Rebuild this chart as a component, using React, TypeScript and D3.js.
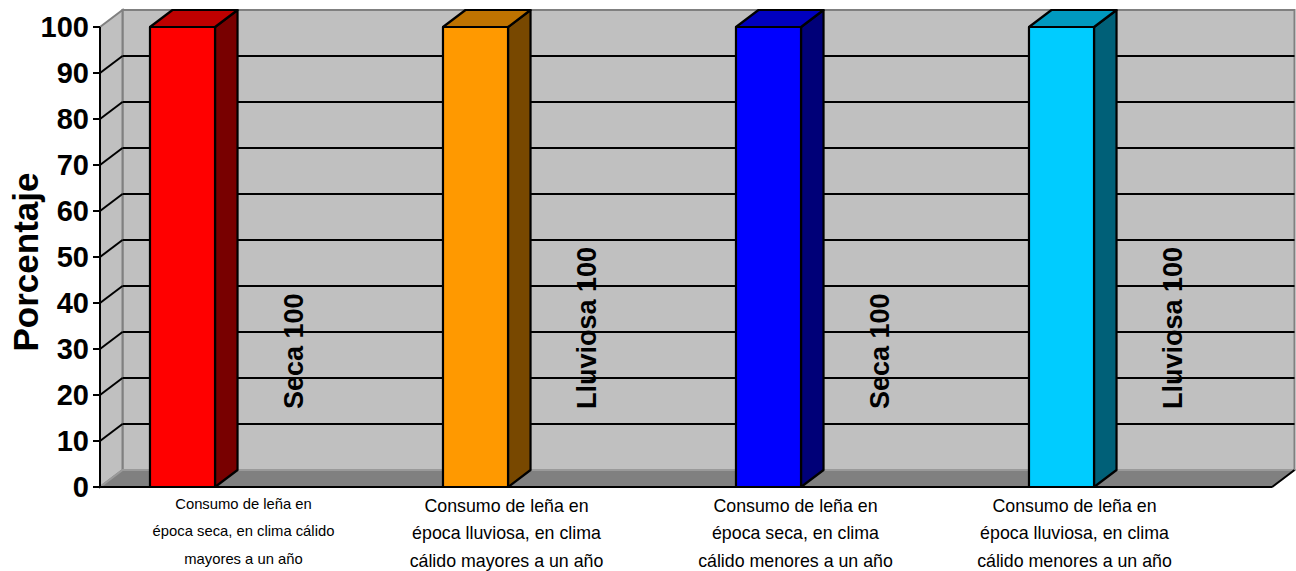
import React from "react";
import * as d3 from "d3";

// Category tick labels, one entry per wrapped line
const categoryLines: string[][] = [
  ["Consumo de leña en", "época seca, en clima cálido", "mayores a un año"],
  ["Consumo de leña en", "época lluviosa, en clima", "cálido mayores a un año"],
  ["Consumo de leña en", "época seca, en clima", "cálido menores a un año"],
  ["Consumo de leña en", "época lluviosa, en clima", "cálido menores a un año"],
];
const categoryKeys = ["mayores-seca", "mayores-lluviosa", "menores-seca", "menores-lluviosa"];
const seasons = ["Seca", "Lluviosa", "Seca", "Lluviosa"];
const values = [100, 100, 100, 100];
const yTicks = [0, 10, 20, 30, 40, 50, 60, 70, 80, 90, 100];

const barColors = ["#ff0000", "#ff9900", "#0000ff", "#00ccff"];

const W = 1296;
const H = 571;
const FONT = "Arial, 'Liberation Sans', sans-serif";

// Plot frame (front plane) and 3D depth offset
const left = 100;
const right = 1272;
const bottom = 487;
const top = 27;
const DX = 22.5;
const DY = 17;

// Category label nudges and font sizes per category
const labelShift = [-3, -33, -37, -51];
const labelFont = [14.8, 17.8, 17.8, 17.8];

function shade(c: string, f: number) {
  const r = d3.rgb(c);
  return d3.rgb(r.r * f, r.g * f, r.b * f).formatHex();
}

export default function App() {
  const x = d3.scaleBand<string>().domain(categoryKeys).range([left, right]).padding(0);
  const y = d3.scaleLinear().domain([0, 100]).range([bottom, top]);
  const bw = x.bandwidth();
  const barW = bw * 0.222;
  const barOff = bw * 0.1706;

  const bx0 = left + DX;
  const bx1 = right + DX;
  const yb = (v: number) => y(v) - DY;

  const pts = (p: [number, number][]) => p.map((q) => q.join(",")).join(" ");

  return (
    <svg
      width={W}
      height={H}
      style={{ position: "absolute", left: 0, top: 0, background: "#fff" }}
      fontFamily={FONT}
    >
      {/* back wall */}
      <rect x={bx0} y={yb(100)} width={bx1 - bx0} height={yb(0) - yb(100)} fill="#c0c0c0" stroke="#808080" strokeWidth={2} />
      {/* side wall */}
      <polygon
        points={pts([[left, y(100)], [bx0, yb(100)], [bx0, yb(0)], [left, y(0)]])}
        fill="#c0c0c0"
        stroke="#808080"
        strokeWidth={2}
      />
      {/* floor */}
      <polygon
        points={pts([[left, y(0)], [bx0, yb(0)], [bx1, yb(0)], [right, y(0)]])}
        fill="#808080"
        stroke="#9a9a9a"
        strokeWidth={2}
      />
      <line x1={left} x2={right} y1={y(0)} y2={y(0)} stroke="#000" strokeWidth={2} />
      <line x1={right} x2={bx1} y1={y(0)} y2={yb(0)} stroke="#000" strokeWidth={2} />

      {/* gridlines */}
      {yTicks.filter((t) => t > 0 && t < 100).map((t) => (
        <g key={`g${t}`}>
          <line x1={bx0} x2={bx1} y1={yb(t)} y2={yb(t)} stroke="#000" strokeWidth={2} />
          <line x1={left} x2={bx0} y1={y(t)} y2={yb(t)} stroke="#000" strokeWidth={2} />
        </g>
      ))}

      {/* y axis */}
      <line x1={left} x2={left} y1={y(100)} y2={y(0)} stroke="#000" strokeWidth={2} />
      {yTicks.map((t) => (
        <g key={`t${t}`}>
          <line x1={left - 7} x2={left} y1={y(t)} y2={y(t)} stroke="#000" strokeWidth={2} />
          <text
            x={89}
            y={y(t)}
            textAnchor="end"
            dominantBaseline="central"
            fontSize={29}
            fontWeight="bold"
          >
            {t}
          </text>
        </g>
      ))}
      <text
        transform={`translate(38, ${(y(0) + y(100)) / 2 + 5}) rotate(-90)`}
        textAnchor="middle"
        fontSize={35}
        fontWeight="bold"
      >
        Porcentaje
      </text>

      {/* bars */}
      {categoryKeys.map((k, i) => {
        const x0 = (x(k) as number) + barOff;
        const x1 = x0 + barW;
        const yt = y(values[i]);
        const yb0 = y(0);
        const c = barColors[i];
        return (
          <g key={k} stroke="#000" strokeWidth={2.2} strokeLinejoin="round">
            <polygon points={pts([[x1, yb0], [x1 + DX, yb0 - DY], [x1 + DX, yt - DY], [x1, yt]])} fill={shade(c, 0.47)} />
            <polygon points={pts([[x0, yt], [x0 + DX, yt - DY], [x1 + DX, yt - DY], [x1, yt]])} fill={shade(c, 0.75)} />
            <rect x={x0} y={yt} width={barW} height={yb0 - yt} fill={c} />
          </g>
        );
      })}

      {/* data labels */}
      {categoryKeys.map((k, i) => {
        const x0 = (x(k) as number) + barOff;
        return (
          <text
            key={`d${k}`}
            transform={`translate(${x0 + 153}, 409) rotate(-90)`}
            fontSize={27}
            fontWeight="bold"
          >
            {`${seasons[i]} ${values[i]}`}
          </text>
        );
      })}

      {/* category labels */}
      {categoryKeys.map((k, i) => {
        const cx = (x(k) as number) + bw / 2 + labelShift[i];
        const fs = labelFont[i];
        const y0 = i === 0 ? 504 : 506;
        return (
          <text key={`c${k}`} textAnchor="middle" fontSize={fs} fill="#000">
            {categoryLines[i].map((line, j) => (
              <tspan key={j} x={cx} y={y0 + j * 27.3} dominantBaseline="central">
                {line}
              </tspan>
            ))}
          </text>
        );
      })}
    </svg>
  );
}
